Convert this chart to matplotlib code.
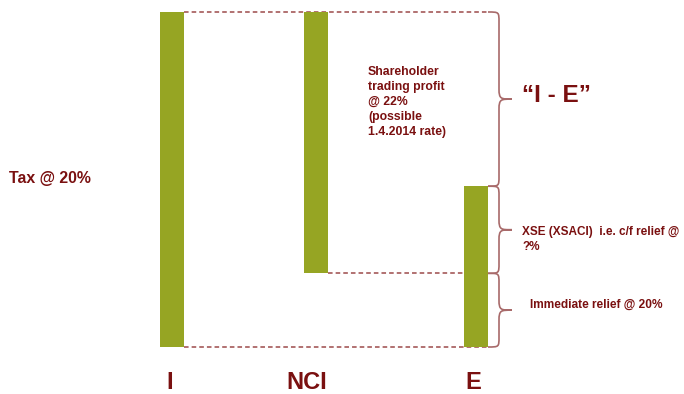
import matplotlib
matplotlib.use("Agg")
import matplotlib.pyplot as plt
from matplotlib.path import Path
from matplotlib.patches import PathPatch

# ---- data ----
categories = ["I", "NCI", "E"]
bar_bottoms = [0, 22, 0]
bar_tops = [100, 100, 48]

# ---- layout / style ----
x_pos = [172, 316, 476]      # bar centres (pixel-like x units)
label_x = [170, 307, 473]    # category label centres
bar_w = 24
bar_color = "#96A523"
text_color = "#7A1010"
dash_color = "#9C4A4A"
brace_color = "#A86A6A"

W, H = 684, 394
fig = plt.figure(figsize=(W / 100, H / 100), dpi=100)
ax = fig.add_axes([0, 0, 1, 1])
px_per_unit = 3.35
y0_px = 347  # pixel row of value 0
ax.set_xlim(0, W)
ax.set_ylim(-(H - y0_px) / px_per_unit, y0_px / px_per_unit)
ax.axis("off")

font = ["Liberation Sans", "DejaVu Sans"]


def ypx(p):
    return (y0_px - p) / px_per_unit


# dashed guide lines (behind bars)
brace_x0 = 488
right_edges = [x + bar_w / 2 for x in x_pos]
dash = (0, (3, 2))
ax.plot([right_edges[0], brace_x0], [bar_tops[0]] * 2, ls=dash, color=dash_color, lw=1.1, zorder=1)
ax.plot([right_edges[1], brace_x0], [bar_bottoms[1]] * 2, ls=dash, color=dash_color, lw=1.1, zorder=1)
ax.plot([right_edges[0], brace_x0], [bar_bottoms[0]] * 2, ls=dash, color=dash_color, lw=1.1, zorder=1)

# bars
ax.bar(x_pos, [t - b for t, b in zip(bar_tops, bar_bottoms)], bottom=bar_bottoms,
       width=bar_w, color=bar_color, zorder=2)

# category labels
for x, c in zip(label_x, categories):
    ax.text(x, ypx(382.5), c, ha="center", va="center",
            fontsize=17, fontweight="bold", color=text_color, family=font)


def brace(ytop, ybot, x0=brace_x0, xv=499, tip=512, rx=10):
    ry = rx / px_per_unit
    ym = (ytop + ybot) / 2
    verts = [(x0, ytop), (xv, ytop), (xv, ytop), (xv, ytop - ry),
             (xv, ym + ry),
             (xv, ym), (xv + 2, ym), (tip, ym),
             (xv + 2, ym), (xv, ym), (xv, ym - ry),
             (xv, ybot + ry),
             (xv, ybot), (xv, ybot), (x0, ybot)]
    codes = [Path.MOVETO, Path.CURVE4, Path.CURVE4, Path.CURVE4,
             Path.LINETO,
             Path.CURVE4, Path.CURVE4, Path.CURVE4,
             Path.CURVE4, Path.CURVE4, Path.CURVE4,
             Path.LINETO,
             Path.CURVE4, Path.CURVE4, Path.CURVE4]
    ax.add_patch(PathPatch(Path(verts, codes), fill=False, edgecolor=brace_color, lw=1.2, zorder=3))


brace(bar_tops[0], bar_tops[2])
brace(bar_tops[2], bar_bottoms[1])
brace(bar_bottoms[1], bar_bottoms[0])

ax.text(9, ypx(178), "Tax @ 20%", ha="left", va="center", fontsize=11.4,
        fontweight="bold", color=text_color, family=font)
ax.text(368, ypx(66), "Shareholder\ntrading profit\n@ 22%\n(possible\n1.4.2014 rate)",
        ha="left", va="top", fontsize=8.8, fontweight="bold", color=text_color,
        family=font, linespacing=1.32)
ax.text(522, ypx(96), "\u201cI - E\u201d", ha="left", va="center", fontsize=17.5,
        fontweight="bold", color=text_color, family=font)
ax.text(522, ypx(239.5), "XSE (XSACI)  i.e. c/f relief @\n?%", ha="left", va="center",
        fontsize=8.5, fontweight="bold", color=text_color, family=font, linespacing=1.28)
ax.text(530, ypx(305), "Immediate relief @ 20%", ha="left", va="center",
        fontsize=8.6, fontweight="bold", color=text_color, family=font)

fig.savefig("out.png", dpi=100)
